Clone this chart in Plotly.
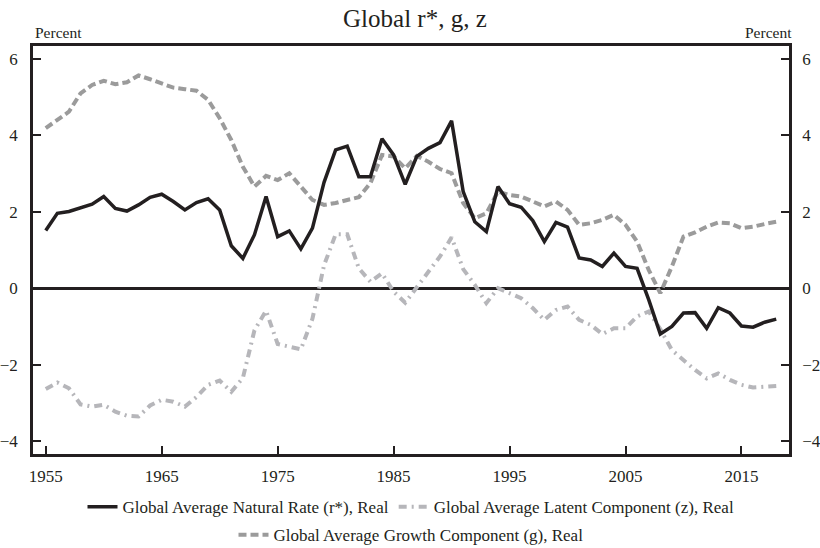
import plotly.graph_objects as go

years = list(range(1955, 2019))

# global natural rate r*
r_star = [1.51, 1.96, 2.01, 2.10, 2.20, 2.40, 2.09, 2.02, 2.18, 2.38,
          2.46, 2.27, 2.05, 2.24, 2.34, 2.05, 1.11, 0.78, 1.40, 2.40,
          1.35, 1.50, 1.03, 1.57, 2.77, 3.62, 3.72, 2.92, 2.92, 3.91,
          3.49, 2.72, 3.45, 3.66, 3.81, 4.38, 2.53, 1.74, 1.48, 2.66,
          2.21, 2.12, 1.77, 1.22, 1.72, 1.60, 0.79, 0.74, 0.57, 0.92,
          0.57, 0.52, -0.30, -1.20, -1.00, -0.65, -0.64, -1.05, -0.51, -0.65,
          -0.99, -1.02, -0.89, -0.81]

# growth component g
g_comp = [4.19, 4.41, 4.62, 5.10, 5.32, 5.43, 5.34, 5.39, 5.57, 5.47,
          5.37, 5.25, 5.21, 5.17, 4.93, 4.45, 3.88, 3.18, 2.66, 2.94,
          2.83, 3.01, 2.66, 2.31, 2.18, 2.23, 2.31, 2.38, 2.75, 3.49,
          3.45, 3.14, 3.46, 3.31, 3.12, 3.01, 2.23, 1.83, 1.96, 2.53,
          2.44, 2.40, 2.27, 2.14, 2.27, 2.05, 1.66, 1.70, 1.79, 1.92,
          1.66, 1.22, 0.48, -0.13, 0.57, 1.35, 1.46, 1.61, 1.72, 1.70,
          1.57, 1.61, 1.68, 1.74]

# latent component z
z_comp = [-2.64, -2.47, -2.62, -3.04, -3.10, -3.05, -3.23, -3.34, -3.36, -3.07,
          -2.92, -2.97, -3.10, -2.85, -2.53, -2.42, -2.71, -2.35, -1.10, -0.59,
          -1.46, -1.53, -1.60, -0.80, 0.60, 1.41, 1.41, 0.52, 0.17, 0.39,
          -0.09, -0.38, 0.04, 0.43, 0.83, 1.33, 0.50, 0.09, -0.39, 0.00,
          -0.13, -0.26, -0.52, -0.83, -0.57, -0.48, -0.83, -0.96, -1.20, -1.05,
          -1.05, -0.74, -0.61, -1.07, -1.62, -1.88, -2.14, -2.36, -2.23, -2.40,
          -2.53, -2.60, -2.58, -2.56]

y_ticks = [-4, -2, 0, 2, 4, 6]
x_ticks = [1955, 1965, 1975, 1985, 1995, 2005, 2015]

serif = "Liberation Serif"
ink = "#231f20"

fig = go.Figure()

fig.add_trace(go.Scatter(
    x=years, y=g_comp, mode="lines",
    name="Global Average Growth Component (g), Real",
    line=dict(color="#9b9b9b", width=4, dash="8px,4px"),
    legend="legend2"
))
fig.add_trace(go.Scatter(
    x=years, y=z_comp, mode="lines",
    name="Global Average Latent Component (z), Real",
    line=dict(color="#b6b6ba", width=4, dash="8px,5px,2px,5px"),
    legend="legend"
))
fig.add_trace(go.Scatter(
    x=years, y=r_star, mode="lines",
    name="Global Average Natural Rate (r*), Real",
    line=dict(color=ink, width=3.5),
    legend="legend"
))
# invisible trace so the right-hand axis gets drawn
fig.add_trace(go.Scatter(
    x=[years[0]], y=[0], yaxis="y2", mode="markers",
    marker=dict(opacity=0), showlegend=False, hoverinfo="skip"
))

yrange = [-4.34, 6.34]
axis_style = dict(
    ticks="inside", ticklen=8, tickwidth=2, tickcolor=ink,
    showline=True, linecolor=ink, linewidth=2.5,
    showgrid=False, automargin=False, tickfont=dict(size=17)
)

fig.update_layout(
    width=820, height=548,
    margin=dict(l=33, r=31, t=46, b=94, autoexpand=False),
    paper_bgcolor="white", plot_bgcolor="white",
    font=dict(family=serif, size=16, color=ink),
    title=dict(text="Global r*, g, z", x=0.506, xanchor="center",
               y=0.967, yanchor="middle", font=dict(size=25)),
    xaxis=dict(range=[1953.9, 2019.1], tickvals=x_ticks, mirror=True,
               zeroline=False, ticklabelstandoff=5, **axis_style),
    yaxis=dict(range=yrange, tickvals=y_ticks, zeroline=True,
               zerolinecolor=ink, zerolinewidth=2.5, ticklabelstandoff=9,
               **axis_style),
    yaxis2=dict(range=yrange, tickvals=y_ticks, overlaying="y", side="right",
                zeroline=False, ticklabelstandoff=7, **axis_style),
    legend=dict(
        orientation="h", x=0.5, xanchor="center", y=-0.086, yanchor="top",
        font=dict(size=17), traceorder="reversed", itemwidth=30,
        bgcolor="rgba(0,0,0,0)"
    ),
    legend2=dict(
        orientation="h", x=0.5, xanchor="center", y=-0.155, yanchor="top",
        font=dict(size=17), itemwidth=30, bgcolor="rgba(0,0,0,0)"
    ),
    showlegend=True,
    annotations=[
        dict(text="Percent", xref="paper", yref="paper", x=0, y=1,
             xanchor="left", yanchor="bottom", yshift=3, showarrow=False,
             font=dict(size=15.5)),
        dict(text="Percent", xref="paper", yref="paper", x=1, y=1,
             xanchor="right", yanchor="bottom", xshift=5, yshift=3,
             showarrow=False, font=dict(size=15.5)),
    ],
)

# drop the browser's default body margin so the figure sits at the page corner
fig.write_html("out.html", post_script="document.body.style.margin = '0';",
               config={"displayModeBar": False})
